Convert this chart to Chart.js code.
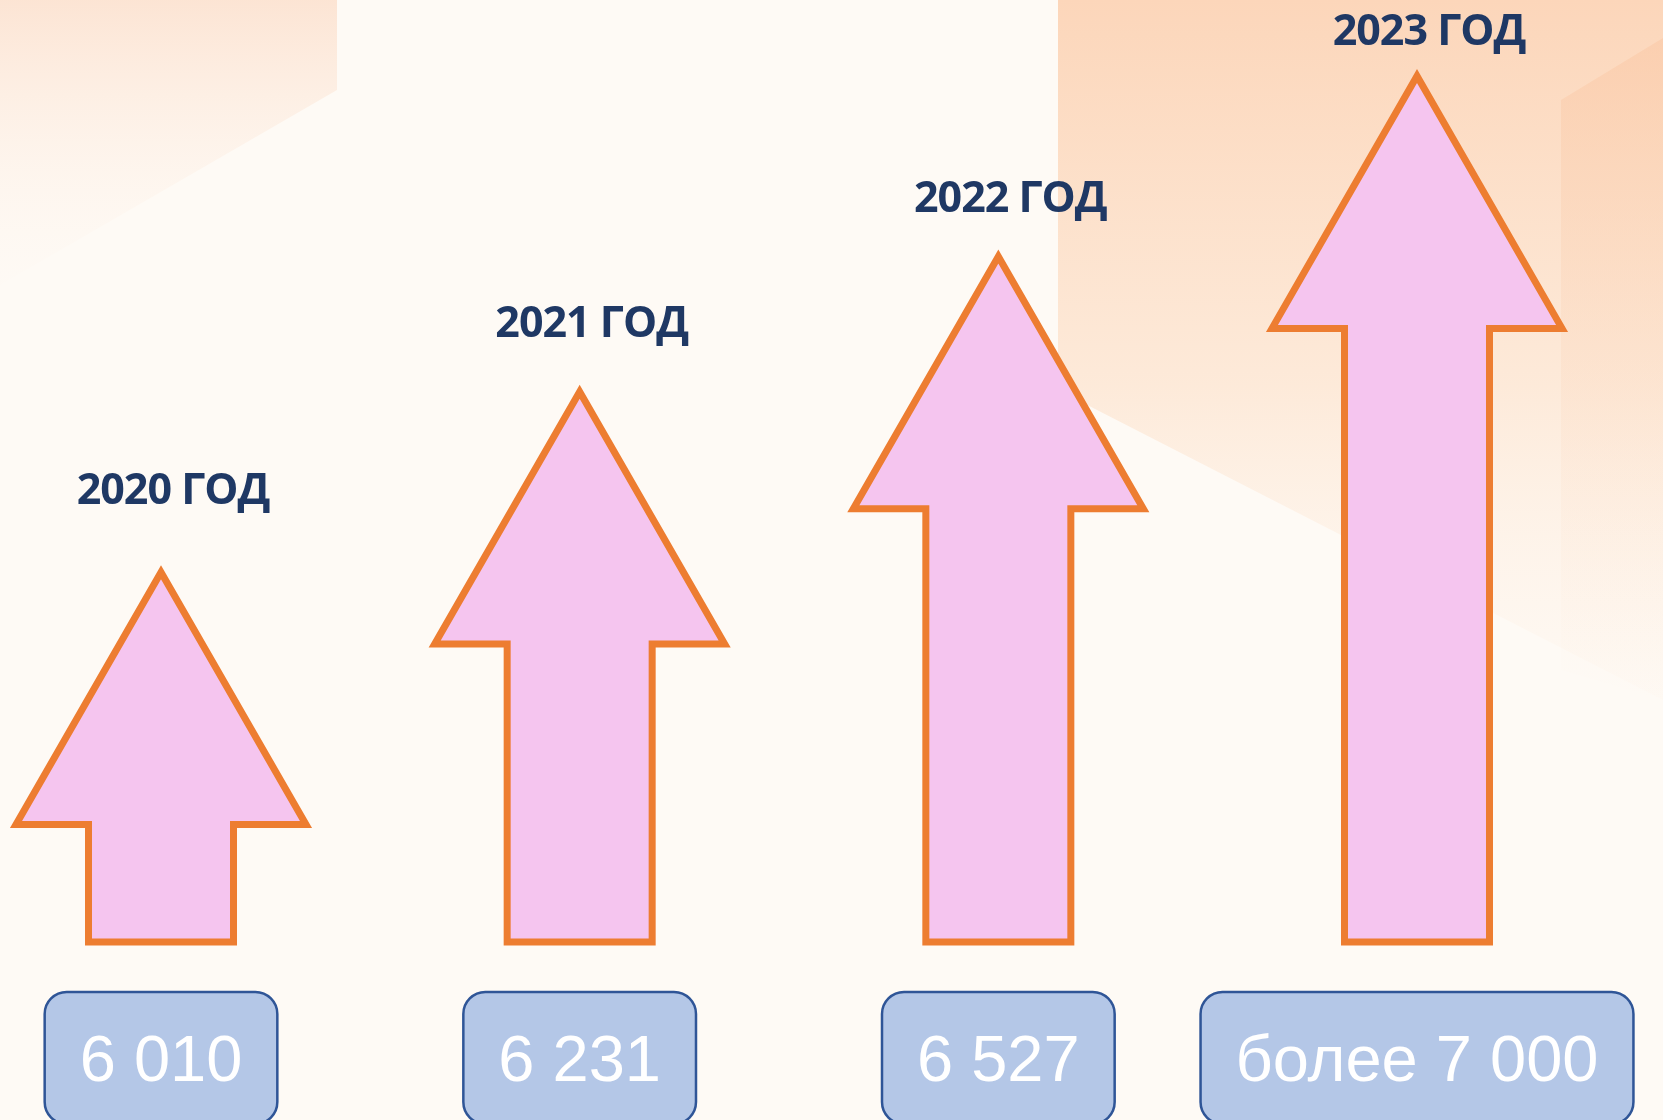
<!DOCTYPE html>
<html><head><meta charset="utf-8">
<script src="https://cdn.jsdelivr.net/npm/chart.js@4.4.1/dist/chart.umd.min.js"></script>
<style>html,body{margin:0;padding:0;background:#FEFAF5;overflow:hidden}#wrap{width:1663px;height:1120px;position:relative}</style>
</head><body><div id="wrap"><canvas id="c" width="1663" height="1120"></canvas></div>
<script>
// Categories (years)
const years = ['2020 ГОД', '2021 ГОД', '2022 ГОД', '2023 ГОД'];
// Values shown in the boxes under the arrows
const values = [6010, 6231, 6527, 7000];
const valueLabels = ['6 010', '6 231', '6 527', 'более 7 000'];
// Illustrative arrow heights (relative units)
const arrowLevel = [4.1, 6.1, 7.6, 9.6];

const bgPlugin = {
  id: 'bg',
  beforeDraw(chart) {
    const ctx = chart.ctx, W = chart.width, H = chart.height;
    ctx.save();
    ctx.fillStyle = '#FEFAF5';
    ctx.fillRect(0, 0, W, H);
    // top-left peach panel
    let g = ctx.createLinearGradient(0, 0, 0, 300);
    g.addColorStop(0, 'rgba(252,226,208,0.9)');
    g.addColorStop(1, 'rgba(254,248,242,0.1)');
    ctx.fillStyle = g;
    ctx.beginPath();
    ctx.moveTo(0, 0); ctx.lineTo(337, 0); ctx.lineTo(337, 90); ctx.lineTo(0, 285); ctx.closePath();
    ctx.fill();
    // right peach panel
    g = ctx.createLinearGradient(0, 0, 0, 700);
    g.addColorStop(0, 'rgba(252,214,186,1)');
    g.addColorStop(0.55, 'rgba(253,232,214,0.9)');
    g.addColorStop(1, 'rgba(254,246,238,0.3)');
    ctx.fillStyle = g;
    ctx.beginPath();
    ctx.moveTo(1058, 0); ctx.lineTo(W, 0); ctx.lineTo(W, 700); ctx.lineTo(1058, 390); ctx.closePath();
    ctx.fill();
    // inner darker block at right
    g = ctx.createLinearGradient(0, 40, 0, 700);
    g.addColorStop(0, 'rgba(250,200,165,0.55)');
    g.addColorStop(1, 'rgba(252,225,205,0.0)');
    ctx.fillStyle = g;
    ctx.beginPath();
    ctx.moveTo(1561, 100); ctx.lineTo(W, 38); ctx.lineTo(W, 700); ctx.lineTo(1561, 670); ctx.closePath();
    ctx.fill();
    ctx.restore();
  }
};

const arrowPlugin = {
  id: 'arrows',
  afterDatasetsDraw(chart) {
    const ctx = chart.ctx;
    const meta = chart.getDatasetMeta(0);
    meta.data.forEach((el, i) => {
      const x = el.x, top = el.y, base = el.base, w = el.width;
      const hw = w / 2, sw = w * 0.25, hh = w * 0.87;
      ctx.save();
      ctx.beginPath();
      ctx.moveTo(x, top);
      ctx.lineTo(x + hw, top + hh);
      ctx.lineTo(x + sw, top + hh);
      ctx.lineTo(x + sw, base);
      ctx.lineTo(x - sw, base);
      ctx.lineTo(x - sw, top + hh);
      ctx.lineTo(x - hw, top + hh);
      ctx.closePath();
      ctx.fillStyle = '#F5C5EF';
      ctx.fill();
      ctx.lineJoin = 'miter';
      ctx.miterLimit = 10;
      ctx.lineWidth = 7;
      ctx.strokeStyle = '#ED7D31';
      ctx.stroke();

      // year label (label sits closer to taller arrows, as in the original)
      const lvl = arrowLevel[i];
      ctx.fillStyle = '#1F3864';
      ctx.font = 'bold 43px "Open Sans", "DejaVu Sans", sans-serif';
      try { ctx.letterSpacing = '-1px'; } catch (e) {}
      ctx.textAlign = 'center';
      ctx.textBaseline = 'alphabetic';
      ctx.fillText(years[i], x + 12, top - (95 - 6.66 * lvl));
      try { ctx.letterSpacing = '0px'; } catch (e) {}

      // value box
      ctx.font = '65px "Liberation Sans", Arial, sans-serif';
      const tw = ctx.measureText(valueLabels[i]).width;
      const bw = tw + 70, bx = x - bw / 2, by = base + 50, bh = 132;
      ctx.beginPath();
      ctx.roundRect(bx, by, bw, bh, 22);
      ctx.fillStyle = '#B4C7E7';
      ctx.fill();
      ctx.lineWidth = 2.5;
      ctx.strokeStyle = '#2F5597';
      ctx.stroke();
      ctx.fillStyle = '#FFFFFF';
      ctx.fillText(valueLabels[i], x, base + 139);
      ctx.restore();
    });
  }
};

new Chart(document.getElementById('c'), {
  type: 'bar',
  data: {
    labels: years,
    datasets: [{
      label: 'Количество',
      data: arrowLevel,
      backgroundColor: 'rgba(0,0,0,0)',
      borderWidth: 0,
      barThickness: 290
    }]
  },
  options: {
    responsive: false,
    animation: false,
    layout: { padding: { left: 161, right: 246, top: 40, bottom: 178 } },
    scales: {
      x: { display: false, offset: false },
      y: { display: false, min: 0, max: 10 }
    },
    plugins: { legend: { display: false }, tooltip: { enabled: false } }
  },
  plugins: [bgPlugin, arrowPlugin]
});
</script>
</body></html>
